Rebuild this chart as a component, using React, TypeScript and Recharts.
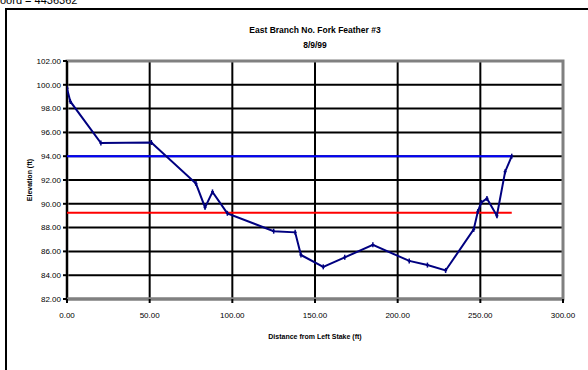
import React from 'react';
import {
  ComposedChart, Line, XAxis, YAxis, CartesianGrid, ReferenceArea, ReferenceLine,
} from 'recharts';

// survey points across the channel
const stations = [0, 2, 20.5, 51, 78, 83.5, 88, 97, 125, 138, 141.5, 155, 168, 185, 207, 218, 229, 246, 248.5, 250.5, 254, 260, 265, 269];
const elevations = [99.7, 98.6, 95.1, 95.15, 91.7, 89.7, 91.0, 89.2, 87.7, 87.6, 85.7, 84.7, 85.5, 86.55, 85.2, 84.85, 84.4, 87.85, 89.35, 90.1, 90.45, 89.0, 92.7, 94.0];

// horizontal reference levels
const bankfullX = [0, 269];
const bankfullY = [94.0, 94.0];
const waterX = [0, 269];
const waterY = [89.25, 89.25];

const xTicks = [0, 50, 100, 150, 200, 250, 300];
const yTicks = [82, 84, 86, 88, 90, 92, 94, 96, 98, 100, 102];

const profile = stations.map((x, i) => ({ x, y: elevations[i] }));
const bankfull = bankfullX.map((x, i) => ({ x, y: bankfullY[i] }));
const water = waterX.map((x, i) => ({ x, y: waterY[i] }));

const FONT = '"Liberation Sans", Arial, sans-serif';

const PlusDot = (props: any) => {
  const { cx, cy } = props;
  if (cx == null || cy == null) return null;
  return (
    <g>
      <line x1={cx} y1={cy - 2.5} x2={cx} y2={cy + 2.5} stroke="#000080" strokeWidth={1.5} />
      <line x1={cx - 1.5} y1={cy} x2={cx + 1.5} y2={cy} stroke="#000080" strokeWidth={1.5} />
    </g>
  );
};

export default function App() {
  return (
    <div style={{ position: 'fixed', left: 0, top: 0, width: 588, height: 370, overflow: 'hidden', background: '#fff', fontFamily: FONT }}>
      <div style={{ position: 'absolute', left: 0, top: -6, fontSize: 11, color: '#000', whiteSpace: 'nowrap' }}>oord = 4436362</div>
      <div style={{ position: 'absolute', left: 5, top: 8, width: 700, height: 500, border: '2px solid #000' }} />
      <div style={{ position: 'absolute', left: 0, width: 630, top: 25, textAlign: 'center', fontSize: 8.5, fontWeight: 'bold' }}>East Branch No. Fork Feather #3</div>
      <div style={{ position: 'absolute', left: 0, width: 630, top: 40, textAlign: 'center', fontSize: 8.5, fontWeight: 'bold' }}>8/9/99</div>
      <div style={{ position: 'absolute', left: 0, top: 0 }}>
        <ComposedChart width={588} height={370} margin={{ top: 61, right: 25, bottom: 41, left: 7 }}>
          <CartesianGrid stroke="#000" strokeWidth={2} horizontal vertical />
          <XAxis
            type="number"
            dataKey="x"
            domain={[0, 300]}
            ticks={xTicks}
            tickFormatter={(v: number) => v.toFixed(2)}
            axisLine={{ stroke: '#808080', strokeWidth: 3 }}
            tickLine={{ stroke: '#000', strokeWidth: 2 }}
            tickSize={4}
            tickMargin={9}
            height={30}
            tick={{ fill: '#000', fontSize: 8, fontFamily: FONT }}
            allowDataOverflow
            label={{ value: 'Distance from Left Stake (ft)', position: 'insideBottom', offset: -10, style: { fontSize: 7, fontWeight: 'bold', fill: '#000', fontFamily: FONT } }}
          />
          <YAxis
            type="number"
            domain={[82, 102]}
            ticks={yTicks}
            tickFormatter={(v: number) => v.toFixed(2)}
            axisLine={false}
            tickLine={{ stroke: '#000', strokeWidth: 2 }}
            tickSize={4}
            tickMargin={2}
            width={60}
            tick={{ fill: '#000', fontSize: 8, fontFamily: FONT }}
            allowDataOverflow
            label={{ value: 'Elevation (ft)', angle: -90, position: 'insideLeft', offset: 23, style: { fontSize: 7, fontWeight: 'bold', fill: '#000', fontFamily: FONT, textAnchor: 'middle' } }}
          />
          <ReferenceArea x1={0} x2={300} y1={82} y2={102} fill="none" stroke="#808080" strokeWidth={3} ifOverflow="visible" />
          <ReferenceLine x={0} stroke="#000" strokeWidth={2} />
          <Line data={bankfull} dataKey="y" stroke="#0000ff" strokeWidth={2} dot={false} isAnimationActive={false} />
          <Line data={water} dataKey="y" stroke="#ff0000" strokeWidth={2} dot={false} isAnimationActive={false} />
          <Line data={profile} dataKey="y" stroke="#000080" strokeWidth={2} dot={<PlusDot />} isAnimationActive={false} />
        </ComposedChart>
      </div>
    </div>
  );
}
